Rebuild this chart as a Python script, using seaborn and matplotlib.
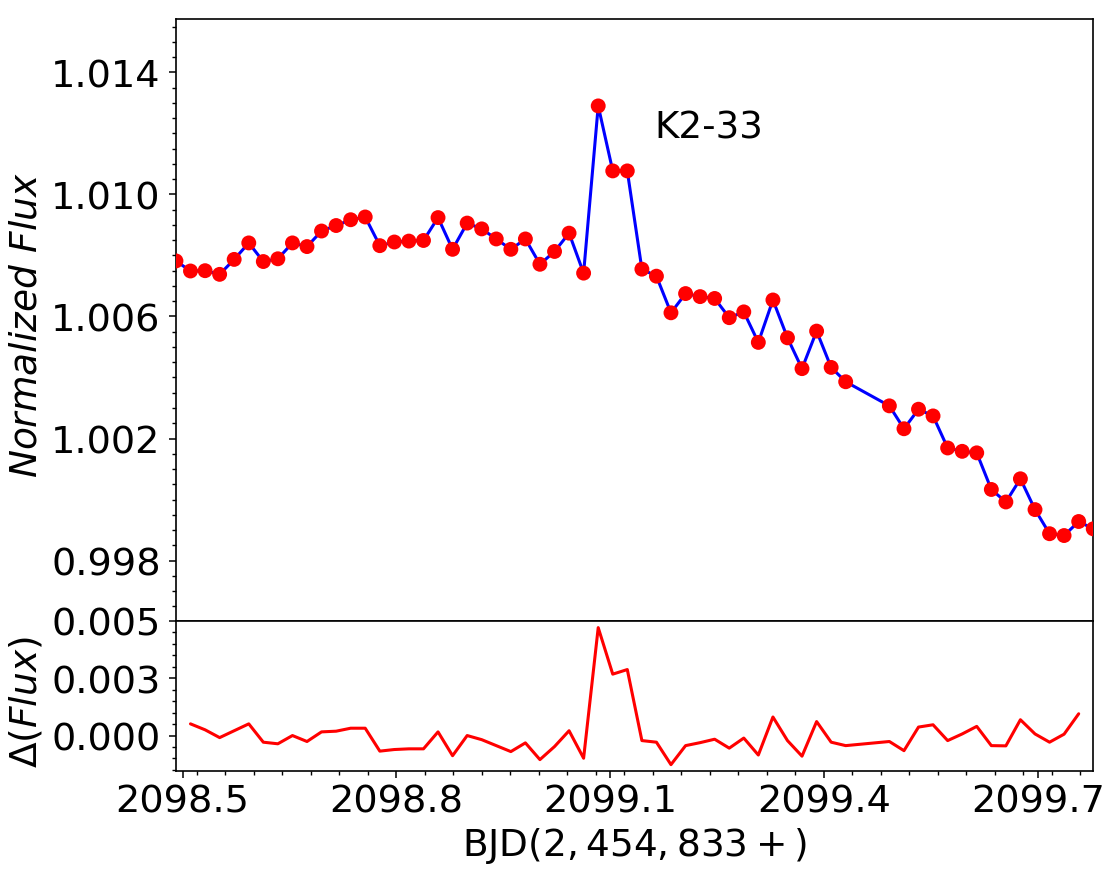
import numpy as np
import pandas as pd
import matplotlib
matplotlib.use("Agg")
import matplotlib.pyplot as plt
import matplotlib.ticker as mticker
import seaborn as sns

# ===== DATA =====
BJD = [2098.4906, 2098.5110, 2098.5315, 2098.5519, 2098.5723, 2098.5928, 2098.6132,
       2098.6336, 2098.6541, 2098.6745, 2098.6949, 2098.7154, 2098.7358, 2098.7562,
       2098.7767, 2098.7971, 2098.8175, 2098.8380, 2098.8584, 2098.8788, 2098.8993,
       2098.9197, 2098.9401, 2098.9606, 2098.9810, 2099.0014, 2099.0219, 2099.0423,
       2099.0627, 2099.0832, 2099.1036, 2099.1240, 2099.1445, 2099.1649, 2099.1853,
       2099.2058, 2099.2262, 2099.2466, 2099.2671, 2099.2875, 2099.3079, 2099.3284,
       2099.3488, 2099.3692, 2099.3897, 2099.4101, 2099.4305, 2099.4918, 2099.5123,
       2099.5327, 2099.5531, 2099.5736, 2099.5940, 2099.6144, 2099.6349, 2099.6553,
       2099.6757, 2099.6962, 2099.7166, 2099.7370, 2099.7575, 2099.7779]

FLUX = [1.00782, 1.00749, 1.00750, 1.00738, 1.00787, 1.00841, 1.00780,
        1.00789, 1.00841, 1.00829, 1.00880, 1.00898, 1.00917, 1.00926,
        1.00832, 1.00844, 1.00847, 1.00849, 1.00924, 1.00820, 1.00906,
        1.00887, 1.00854, 1.00820, 1.00854, 1.00771, 1.00813, 1.00873,
        1.00742, 1.01290, 1.01077, 1.01077, 1.00755, 1.00732, 1.00612,
        1.00675, 1.00665, 1.00659, 1.00596, 1.00615, 1.00515, 1.00654,
        1.00530, 1.00429, 1.00552, 1.00433, 1.00386, 1.00307, 1.00232,
        1.00296, 1.00274, 1.00169, 1.00158, 1.00153, 1.00033, 0.99992,
        1.00068, 0.99967, 0.99888, 0.99882, 0.99928, 0.99904]

# residuals exist for every point except the first and the last
RESID = [0.00051, 0.00025, -0.00009, 0.00021, 0.00051, -0.00029, -0.00036,
         0.00000, -0.00026, 0.00016, 0.00019, 0.00032, 0.00032, -0.00068,
         -0.00061, -0.00058, -0.00058, 0.00016, -0.00088, 0.00000, -0.00018,
         -0.00044, -0.00070, -0.00032, -0.00105, -0.00048, 0.00021, -0.00099,
         0.00471, 0.00268, 0.00288, -0.00022, -0.00029, -0.00127, -0.00044,
         -0.00031, -0.00016, -0.00055, -0.00011, -0.00085, 0.00081, -0.00022,
         -0.00090, 0.00061, -0.00029, -0.00044, -0.00026, -0.00066, 0.00037,
         0.00047, -0.00022, 0.00007, 0.00040, -0.00044, -0.00045, 0.00069,
         0.00007, -0.00029, 0.00006, 0.00095]

FLUX_TICKS = [0.998, 1.002, 1.006, 1.010, 1.014]
RESID_TICKS = [0.0, 0.0025, 0.005]
BJD_TICKS = [2098.5, 2098.8, 2099.1, 2099.4, 2099.7]
TARGET = "K2-33"

FS_TICK = 27.5   # tick labels
FS_TXT = 26.8    # annotation
FS_LAB = 27      # axis labels


def make_plot():
    df = pd.DataFrame({"BJD": BJD, "Flux": FLUX})
    df_res = pd.DataFrame({"BJD": BJD[1:-1], "Resid": RESID})

    sns.set_style("ticks")
    plt.rcParams["font.family"] = ["DejaVu Sans"]
    plt.rcParams["mathtext.fontset"] = "dejavusans"
    plt.rcParams["text.color"] = "black"
    plt.rcParams["axes.labelcolor"] = "black"

    fig = plt.figure(figsize=(11.2, 8.79), dpi=100)
    ax_top = fig.add_axes([0.1571, 0.2924, 0.8190, 0.6849])
    ax_bot = fig.add_axes([0.1571, 0.1214, 0.8190, 0.1710], sharex=ax_top)

    # --- top: light curve ---
    sns.lineplot(data=df, x="BJD", y="Flux", color="blue", linewidth=2.2,
                 ax=ax_top, zorder=2)
    sns.scatterplot(data=df, x="BJD", y="Flux", color="red", s=115,
                    edgecolor="none", ax=ax_top, zorder=3)
    ax_top.text(2099.162, 1.0122, TARGET, fontsize=FS_TXT, ha="left",
                va="center", color="black")

    ax_top.set_ylim(0.99602, 1.01575)
    ax_top.yaxis.set_major_locator(mticker.FixedLocator(FLUX_TICKS))
    ax_top.yaxis.set_major_formatter(mticker.FormatStrFormatter("%.3f"))
    ax_top.yaxis.set_minor_locator(mticker.MultipleLocator(0.0005))
    ax_top.set_ylabel(r"$Normalized\ Flux$", fontsize=FS_LAB, color="black")
    ax_top.yaxis.set_label_coords(-0.143, 0.493)
    ax_top.set_xlabel("")
    ax_top.tick_params(axis="x", which="both", bottom=False, labelbottom=False)

    # --- bottom: residuals ---
    sns.lineplot(data=df_res, x="BJD", y="Resid", color="red", linewidth=2.2,
                 ax=ax_bot)
    ax_bot.set_ylim(-0.00156, 0.005)
    ax_bot.yaxis.set_major_locator(mticker.FixedLocator(RESID_TICKS))
    ax_bot.yaxis.set_major_formatter(mticker.FormatStrFormatter("%.3f"))
    ax_bot.yaxis.set_minor_locator(mticker.MultipleLocator(0.0005))
    ax_bot.set_ylabel(r"$\Delta(Flux)$", fontsize=FS_LAB, color="black")
    ax_bot.yaxis.set_label_coords(-0.143, 0.468)

    ax_bot.set_xlim(BJD[0], BJD[-1])
    ax_bot.xaxis.set_major_locator(mticker.FixedLocator(BJD_TICKS))
    ax_bot.xaxis.set_major_formatter(mticker.FormatStrFormatter("%.1f"))
    ax_bot.xaxis.set_minor_locator(mticker.MultipleLocator(0.04))
    ax_bot.set_xlabel(r"$\mathrm{BJD}(2,454,833+)$", fontsize=FS_LAB,
                      color="black")

    for ax in (ax_top, ax_bot):
        for sp in ax.spines.values():
            sp.set_color("black")
            sp.set_linewidth(1.2)
        ax.tick_params(axis="both", which="major", length=5, width=1.1,
                       color="black", labelsize=FS_TICK, labelcolor="black")
        ax.tick_params(axis="both", which="minor", length=3, width=1.0,
                       color="black")
        ax.tick_params(axis="y", which="major", pad=6)
        ax.tick_params(axis="x", which="major", pad=4)

    fig.savefig("out.png", dpi=100)


if __name__ == "__main__":
    make_plot()
